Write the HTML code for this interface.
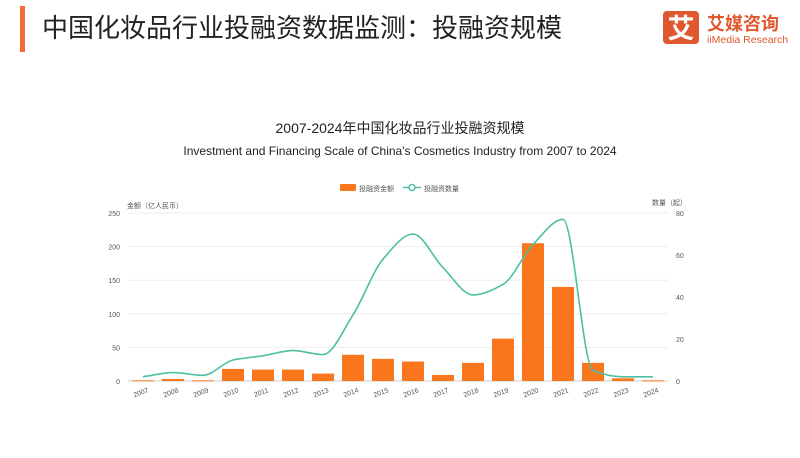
<!DOCTYPE html>
<html><head><meta charset="utf-8"><style>
body{margin:0;width:800px;height:458px;background:#fff;overflow:hidden;font-family:"Liberation Sans","Noto Sans CJK SC",sans-serif;}
</style></head><body>
<svg width="800" height="458" xmlns="http://www.w3.org/2000/svg" style="position:absolute;left:0;top:0">
<rect x="20" y="6" width="5" height="46" fill="#f26a35"/>
<text x="42" y="37" font-size="26" fill="#222" font-family="Liberation Sans,Noto Sans CJK SC,sans-serif">中国化妆品行业投融资数据监测：投融资规模</text>
<rect x="663" y="11" width="36" height="33" rx="4" fill="#e0582f"/>
<text x="681" y="38" font-size="27" fill="#fff" text-anchor="middle" font-weight="bold" font-family="Noto Sans CJK SC,sans-serif">艾</text>
<text x="707" y="30" font-size="18" fill="#e0582f" font-weight="bold" font-family="Noto Sans CJK SC,sans-serif">艾媒咨询</text>
<text x="707" y="43" font-size="10.5" fill="#e0582f" font-family="Liberation Sans,sans-serif">iiMedia Research</text>
<text x="400" y="133" font-size="14" fill="#222" text-anchor="middle" font-family="Liberation Sans,Noto Sans CJK SC,sans-serif">2007-2024年中国化妆品行业投融资规模</text>
<text x="400" y="155" font-size="12" fill="#222" text-anchor="middle">Investment and Financing Scale of China's Cosmetics Industry from 2007 to 2024</text>
<rect x="340" y="184" width="16" height="7" rx="1" fill="#fa761d"/>
<text x="359" y="191" font-size="7" fill="#555" font-family="Noto Sans CJK SC,sans-serif">投融资金额</text>
<line x1="403" y1="187.5" x2="421" y2="187.5" stroke="#4dbfa3" stroke-width="1.5"/>
<circle cx="412" cy="187.5" r="3" fill="#fff" stroke="#4dbfa3" stroke-width="1.5"/>
<text x="424" y="191" font-size="7" fill="#555" font-family="Noto Sans CJK SC,sans-serif">投融资数量</text>
<text x="127" y="208" font-size="7" fill="#555" font-family="Noto Sans CJK SC,sans-serif">金额（亿人民币）</text>
<text x="652" y="205" font-size="7" fill="#555" font-family="Noto Sans CJK SC,sans-serif">数量（起）</text>
<g stroke="#eee" stroke-width="1">
<line x1="128" y1="213" x2="668" y2="213"/><line x1="128" y1="246.6" x2="668" y2="246.6"/><line x1="128" y1="280.2" x2="668" y2="280.2"/><line x1="128" y1="313.8" x2="668" y2="313.8"/><line x1="128" y1="347.4" x2="668" y2="347.4"/>
</g>
<line x1="128" y1="381" x2="668" y2="381" stroke="#ccc"/>
<g font-size="7" fill="#555" text-anchor="end">
<text x="120" y="216">250</text><text x="120" y="249.6">200</text><text x="120" y="283.2">150</text><text x="120" y="316.8">100</text><text x="120" y="350.4">50</text><text x="120" y="384">0</text>
</g>
<g font-size="7" fill="#555">
<text x="676" y="216">80</text><text x="676" y="258">60</text><text x="676" y="300">40</text><text x="676" y="342">20</text><text x="676" y="384">0</text>
</g>
<g id="bars" fill="#fa761d"></g>
<path id="line" fill="none" stroke="#4dbfa3" stroke-width="1.6"/>
<g id="xl" font-size="7" fill="#555"></g>
</svg>
<script>
var amt=[1,3,1,18,17,17,11,39,33,29,9,27,63,205,140,27,4,1];
var cnt=[2,4,2.7,10,12,14.5,12.6,31.5,58,70,54,41,46,65,77,5,2,2];
var ns="http://www.w3.org/2000/svg",b=document.getElementById("bars"),xl=document.getElementById("xl");
var xs=[],ys=[];
for(var i=0;i<18;i++){var cx=143+30*i;var h=amt[i]*0.672;
var r=document.createElementNS(ns,"rect");r.setAttribute("x",cx-11);r.setAttribute("y",381-h);r.setAttribute("width",22);r.setAttribute("height",Math.max(h,1));b.appendChild(r);
var t=document.createElementNS(ns,"text");t.setAttribute("transform","translate("+(cx+6)+",392) rotate(-20)");t.setAttribute("text-anchor","end");t.textContent=2007+i;xl.appendChild(t);
xs.push(cx);ys.push(381-cnt[i]*2.1);}
var n=18,dl=[],m=[];
for(var i=0;i<n-1;i++)dl.push((ys[i+1]-ys[i])/30);
m[0]=dl[0];m[n-1]=dl[n-2];
for(var i=1;i<n-1;i++){if(dl[i-1]*dl[i]<=0)m[i]=0;else m[i]=2/(1/dl[i-1]+1/dl[i]);}
var d="M"+xs[0]+","+ys[0];
for(var i=0;i<n-1;i++){d+=" C"+(xs[i]+10)+","+(ys[i]+m[i]*10)+" "+(xs[i+1]-10)+","+(ys[i+1]-m[i+1]*10)+" "+xs[i+1]+","+ys[i+1];}
document.getElementById("line").setAttribute("d",d);
</script>
</body></html>
